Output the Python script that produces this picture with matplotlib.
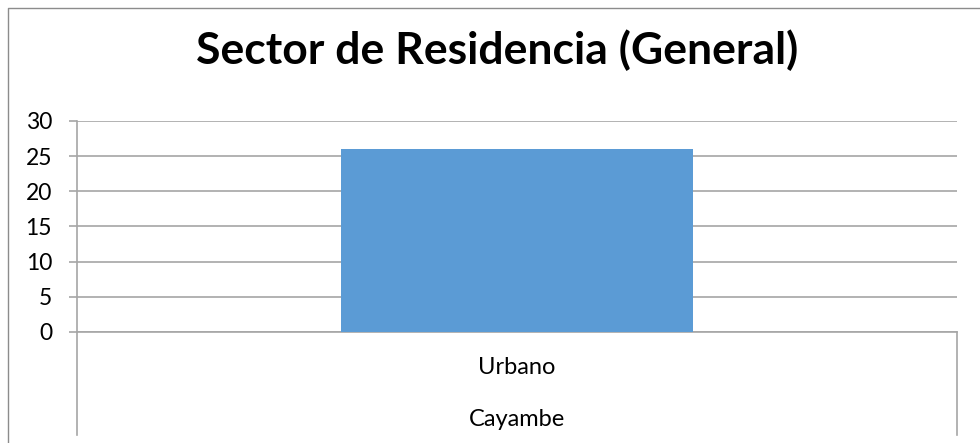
#!/usr/bin/env python3
"""
Sector de Residencia (General) - single bar chart, Excel style
"""
import matplotlib
matplotlib.use('Agg')
import matplotlib.pyplot as plt
from matplotlib.lines import Line2D

# Data
categories = ['Urbano']
group_label = 'Cayambe'
values = [26]
y_ticks = [0, 5, 10, 15, 20, 25, 30]

W, H = 980, 443
BAR_COLOR = '#5B9BD5'
GRID_COLOR = '#A6A6A6'
FONT = 'Lato'


def px(x, y):
    """pixel (from top-left) -> figure fraction"""
    return x / W, 1 - y / H


def main():
    fig = plt.figure(figsize=(W / 100, H / 100), dpi=100)

    # plot area: x 77..957, y 121..332 (pixels)
    left, top = px(77, 121)
    right, bottom = px(957, 332)
    ax = fig.add_axes([left, bottom, right - left, top - bottom])

    x = range(len(categories))
    ax.bar(x, values, width=0.4, color=BAR_COLOR, zorder=3)

    ax.set_xlim(-0.5, len(categories) - 0.5)
    ax.set_ylim(0, 30)
    ax.set_yticks(y_ticks)
    ax.set_yticklabels([str(t) for t in y_ticks], fontsize=16.5, family=FONT)
    ax.set_xticks([])

    ax.grid(axis='y', color=GRID_COLOR, linewidth=1.2, zorder=0)
    ax.tick_params(axis='y', length=6, width=1.2, color=GRID_COLOR, pad=12)
    for side in ['top', 'right']:
        ax.spines[side].set_visible(False)
    ax.spines['left'].set_color(GRID_COLOR)
    ax.spines['left'].set_linewidth(1.2)
    ax.spines['bottom'].set_color(GRID_COLOR)
    ax.spines['bottom'].set_linewidth(1.2)

    # multi-level category labels below the axis
    fig.text(*px(517, 368), categories[0], ha='center', va='center',
             fontsize=17, family=FONT)
    fig.text(*px(517, 419), group_label, ha='center', va='center',
             fontsize=17, family=FONT)

    # category boundary lines below the axis
    for xp in (77, 957):
        x0, y0 = px(xp, 332)
        x1, y1 = px(xp, 435)
        fig.add_artist(Line2D([x0, x1], [y0, y1], color=GRID_COLOR,
                              linewidth=1.2, transform=fig.transFigure))

    # outer chart border (cropped on right and bottom)
    bx, by = px(7.5, 7.5)
    fig.add_artist(Line2D([bx, bx, 1.01], [-0.01, by, by], color='#8C8C8C',
                          linewidth=1.0, transform=fig.transFigure))

    fig.text(*px(497, 50), 'Sector de Residencia (General)', ha='center',
             va='center', fontsize=32, fontweight='bold', family=FONT)

    fig.savefig('out.png', dpi=100)
    plt.close(fig)


if __name__ == '__main__':
    main()
